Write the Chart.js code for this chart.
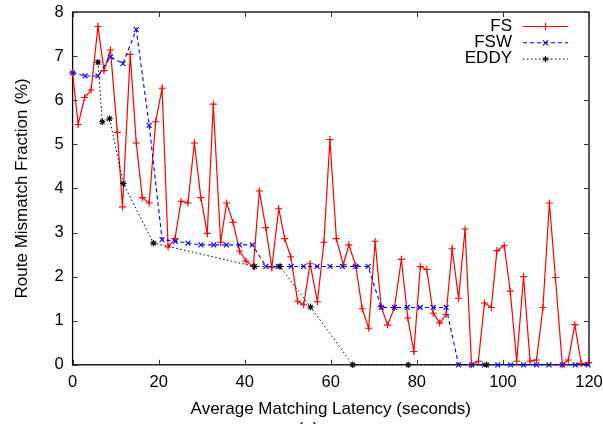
<!DOCTYPE html>
<html>
<head>
<meta charset="utf-8">
<script src="https://cdn.jsdelivr.net/npm/chart.js@4/dist/chart.umd.min.js"></script>
<style>
  html, body { margin: 0; padding: 0; background: #fff; }
  #chartCanvas { display: block; }
</style>
</head>
<body>
<canvas id="chartCanvas" width="603" height="424"></canvas>
<script>
// FS: full search
const fsX = [0, 1.3, 2.8, 4.3, 5.9, 7.3, 8.8, 10.4, 11.6, 13.4,
  14.8, 16.2, 17.8, 19.3, 20.8, 22.2, 23.8, 25.2, 26.8, 28.3,
  29.8, 31.3, 32.7, 34.4, 35.8, 37.3, 38.8, 40.3, 42.0, 43.4,
  44.9, 46.3, 47.9, 49.3, 50.7, 52.3, 53.7, 55.2, 56.9, 58.4,
  59.8, 61.3, 62.9, 64.2, 65.8, 67.3, 68.8, 70.3, 71.7, 73.2,
  74.8, 76.4, 77.9, 79.3, 80.8, 82.3, 83.8, 85.3, 86.8, 88.2,
  89.7, 91.2, 92.7, 94.3, 95.7, 97.3, 98.6, 100.3, 101.7, 103.2,
  104.8, 106.3, 107.8, 109.3, 110.8, 112.2, 113.8, 115.2, 116.7, 118.2,
  119.9];
const fsY = [6.62, 5.45, 6.06, 6.23, 7.67, 6.67, 7.14, 5.27, 3.58, 7.04,
  5.03, 3.79, 3.67, 5.51, 6.27, 2.67, 2.86, 3.71, 3.67, 5.03,
  3.79, 2.98, 5.91, 2.78, 3.67, 3.23, 2.58, 2.35, 2.23, 3.94,
  3.11, 2.20, 3.54, 2.86, 2.45, 1.44, 1.36, 2.29, 1.43, 2.78,
  5.11, 2.86, 2.27, 2.72, 2.25, 1.27, 0.83, 2.80, 1.32, 0.90,
  1.30, 2.39, 1.06, 0.30, 2.23, 2.16, 1.17, 0.95, 1.14, 2.63,
  1.51, 3.08, 0.0, 0.08, 1.40, 1.30, 2.59, 2.70, 1.67, 0.08,
  2.0, 0.08, 0.11, 1.30, 3.67, 1.98, 0.0, 0.11, 0.91, 0.03,
  0.05];

// FSW: windowed search
const fswX = [0, 2.9, 5.9, 8.8, 11.7, 14.8, 17.8, 20.8, 23.9, 26.8,
  29.8, 32.8, 35.8, 38.8, 41.8, 44.9, 47.8, 50.8, 53.7, 56.8,
  59.8, 62.7, 65.8, 68.7, 71.7, 74.8, 77.8, 80.8, 83.8, 86.8,
  89.7, 92.7, 95.7, 98.8, 101.8, 104.8, 107.8, 110.7, 113.8, 116.8,
  119.8];
const fswY = [6.62, 6.55, 6.55, 6.98, 6.83, 7.60, 5.43, 2.84, 2.80, 2.76,
  2.72, 2.72, 2.72, 2.72, 2.72, 2.23, 2.23, 2.23, 2.23, 2.23,
  2.23, 2.23, 2.23, 2.23, 1.30, 1.30, 1.30, 1.30, 1.30, 1.30,
  0, 0, 0, 0, 0, 0, 0, 0, 0, 0,
  0];

// EDDY
const eddyX = [5.9, 6.9, 8.6, 11.8, 18.8, 42.3, 48.2, 55.3, 65.1, 78.0, 96.2];
const eddyY = [6.86, 5.51, 5.58, 4.11, 2.76, 2.23, 2.23, 1.31, 0, 0, 0];

const FONT = "'Liberation Sans', Arial, Helvetica, sans-serif";

function pairs(xs, ys) {
  return xs.map((x, i) => ({ x: x, y: ys[i] }));
}

// small gnuplot style markers for the key
function drawMarker(ctx, style, x, y, r) {
  ctx.beginPath();
  if (style === "cross" || style === "star") {
    ctx.moveTo(x - r, y); ctx.lineTo(x + r, y);
    ctx.moveTo(x, y - r); ctx.lineTo(x, y + r);
  }
  if (style === "crossRot" || style === "star") {
    const d = r * 0.7071;
    ctx.moveTo(x - d, y - d); ctx.lineTo(x + d, y + d);
    ctx.moveTo(x - d, y + d); ctx.lineTo(x + d, y - d);
  }
  ctx.stroke();
}

// box border, inward ticks, key
const gnuplotFrame = {
  id: "gnuplotFrame",
  beforeDatasetsDraw(chart) {
    const { ctx, chartArea: a, scales } = chart;
    ctx.save();
    ctx.strokeStyle = "#000";
    ctx.lineWidth = 1.3;
    ctx.strokeRect(a.left, a.top, a.right - a.left, a.bottom - a.top);
    ctx.lineWidth = 1;
    ctx.strokeStyle = "#333";
    const len = 5;
    ctx.beginPath();
    scales.x.ticks.forEach(t => {
      const px = Math.round(scales.x.getPixelForValue(t.value)) + 0.5;
      ctx.moveTo(px, a.bottom); ctx.lineTo(px, a.bottom - len);
      ctx.moveTo(px, a.top); ctx.lineTo(px, a.top + len);
    });
    scales.y.ticks.forEach(t => {
      const py = Math.round(scales.y.getPixelForValue(t.value)) + 0.5;
      ctx.moveTo(a.left, py); ctx.lineTo(a.left + len, py);
      ctx.moveTo(a.right, py); ctx.lineTo(a.right - len, py);
    });
    ctx.stroke();
    ctx.restore();
  },
  afterDraw(chart) {
    const { ctx } = chart;
    ctx.save();
    ctx.font = "17px " + FONT;
    ctx.textAlign = "right";
    ctx.textBaseline = "middle";
    const textRight = 512, lineL = 523, lineR = 568, top = 26, step = 16.3;
    chart.data.datasets.forEach((ds, i) => {
      const y = top + i * step;
      ctx.fillStyle = "#000";
      ctx.fillText(ds.label, textRight, y);
      ctx.strokeStyle = ds.borderColor;
      ctx.lineWidth = ds.borderWidth;
      ctx.setLineDash(ds.borderDash || []);
      ctx.beginPath();
      ctx.moveTo(lineL, y + 0.5); ctx.lineTo(lineR, y + 0.5);
      ctx.stroke();
      ctx.setLineDash([]);
      drawMarker(ctx, ds.pointStyle, (lineL + lineR) / 2, y + 0.5, ds.pointRadius);
    });
    // sub-figure caption, mostly below the visible area
    ctx.textAlign = "center";
    ctx.textBaseline = "top";
    ctx.fillText("(a)", 308, 421);
    ctx.restore();
  }
};

// let the layout padding alone decide where the plot box sits
function noOverflow(scale) {
  scale.paddingTop = 0;
  scale.paddingBottom = 0;
  scale.paddingLeft = 0;
  scale.paddingRight = 0;
}

const ctx = document.getElementById("chartCanvas").getContext("2d");
new Chart(ctx, {
  type: "line",
  data: {
    datasets: [
      {
        label: "FS",
        data: pairs(fsX, fsY),
        borderColor: "#ff0000",
        backgroundColor: "#ff0000",
        borderWidth: 1.2,
        pointStyle: "cross",
        pointRadius: 3.5,
        pointBorderWidth: 1.1,
        pointBorderColor: "#ff0000",
        tension: 0,
        clip: false,
        order: 3
      },
      {
        label: "FSW",
        data: pairs(fswX, fswY),
        borderColor: "#0000ff",
        backgroundColor: "#0000ff",
        borderWidth: 1.1,
        borderDash: [4, 3],
        pointStyle: "crossRot",
        pointRadius: 3.5,
        pointBorderWidth: 1.1,
        pointBorderColor: "#0000ff",
        tension: 0,
        clip: false,
        order: 2
      },
      {
        label: "EDDY",
        data: pairs(eddyX, eddyY),
        borderColor: "#000000",
        backgroundColor: "#000000",
        borderWidth: 1,
        borderDash: [1.5, 2.5],
        pointStyle: "star",
        pointRadius: 3.2,
        pointBorderWidth: 1.1,
        pointBorderColor: "#000000",
        tension: 0,
        clip: false,
        order: 1
      }
    ]
  },
  options: {
    responsive: false,
    animation: false,
    events: [],
    layout: { padding: { top: 12, right: 14, bottom: 4, left: 10 } },
    plugins: {
      legend: { display: false },
      tooltip: { enabled: false }
    },
    scales: {
      x: {
        type: "linear",
        min: 0,
        max: 120,
        afterFit: noOverflow,
        grid: { display: false, drawTicks: false },
        border: { display: false },
        ticks: { stepSize: 20, color: "#000", padding: 8, maxRotation: 0, font: { family: FONT, size: 16.5 } },
        title: {
          display: true,
          text: "Average Matching Latency (seconds)",
          color: "#000",
          padding: { top: -1, bottom: 0 },
          font: { family: FONT, size: 17 }
        }
      },
      y: {
        min: 0,
        max: 8,
        afterFit: noOverflow,
        grid: { display: false, drawTicks: false },
        border: { display: false },
        ticks: { stepSize: 1, color: "#000", padding: 9, font: { family: FONT, size: 16.5 } },
        title: {
          display: true,
          text: "Route Mismatch Fraction (%)",
          color: "#000",
          padding: { top: 2, bottom: 13 },
          font: { family: FONT, size: 17 }
        }
      }
    }
  },
  plugins: [gnuplotFrame]
});
</script>
</body>
</html>
